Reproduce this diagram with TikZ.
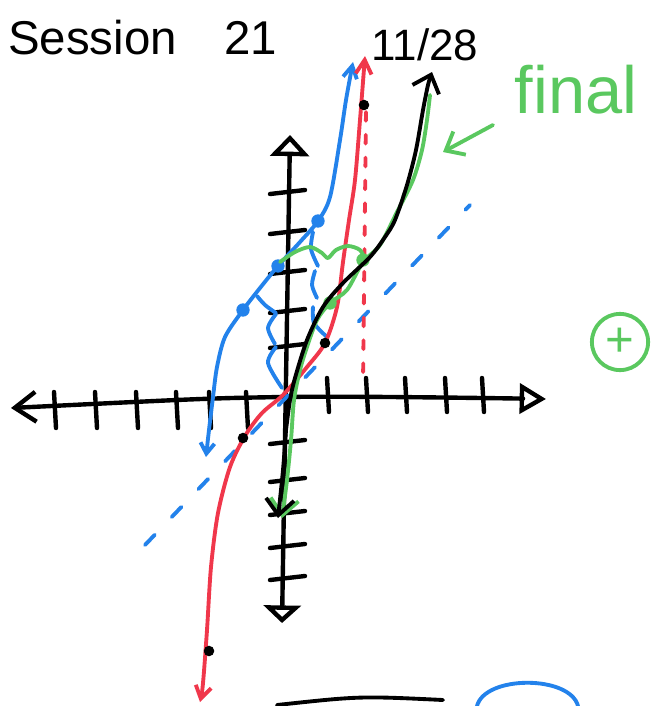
\documentclass[tikz,border=0pt]{standalone}
\usepackage{fontspec}
\setmainfont{Liberation Sans}
\usetikzlibrary{arrows.meta}
\definecolor{inkblue}{RGB}{35,130,235}
\definecolor{inkred}{RGB}{240,55,75}
\definecolor{inkgreen}{RGB}{90,200,95}

\begin{document}
\begin{tikzpicture}[x=0.02cm, y=-0.02cm, >={Straight Barb[length=7pt,width=9pt]},
    pen/.style={line width=2.2pt, line cap=round, line join=round},
    axis/.style={pen, line width=2.5pt, black},
    isoline/.style={pen, dash pattern=on 8pt off 14pt},
    bigbarb/.style={-{Straight Barb[length=9pt,width=16pt]}}]
    \useasboundingbox (0,0) rectangle (655,706);

    % Heading
    \node[anchor=base west, font=\fontsize{27}{30}\selectfont] (title) at (2,55) {Session\quad 21};
    \node[font=\fontsize{25}{27}\selectfont] (date) at (425,45) {11/28};

    % Axes
    \draw[axis, {Straight Barb[length=12pt,width=17pt]}-{Triangle[open,length=15pt,width=17pt]}]
        plot[smooth] coordinates {(11,408) (283,397) (546,399)};
    \draw[axis, {Triangle[open,length=10pt,width=21pt]}-{Triangle[open,length=12pt,width=22pt]}]
        (282,623) -- (290,135);
    \foreach \t in {54,95,136,176,209,246} {
        \draw[axis] (\t,392) -- (\t+2,428);
    }
    \foreach \t in {327,366,405,445,482} {
        \draw[axis] (\t,378) -- (\t+2,412);
    }
    \foreach \t in {192,232,272,311,346,442,480,513,546,578} {
        \draw[axis] (270,\t+2) -- (305,\t-2);
    }

    % y = x
    \draw[inkblue, isoline] (145,545) -- (470,205);
    % red dotted line x = 2
    \draw[inkred, pen, dash pattern=on 5pt off 8pt] (366,112) -- (363,385);

    % Blue solution
    \draw[inkblue, pen, {Straight Barb[length=6pt,width=8pt]}-{Straight Barb[length=7pt,width=8pt]}]
        plot[smooth] coordinates {(206,457) (209,430) (213,397) (217,367) (225,337) (243,310)
        (260,288) (278,266) (300,242) (318,221) (330,197) (340,140) (346,100) (353,62)};
    \draw[inkblue, pen] plot[smooth] coordinates {(257,296) (265,305) (276,313)};
    \draw[inkblue, pen] plot[smooth] coordinates {(276,314) (268,328) (275,344)};
    \draw[inkblue, pen] plot[smooth] coordinates {(276,347) (268,363) (282,388)};
    \draw[inkblue, pen] plot[smooth] coordinates {(313,232) (311,249) (318,266)};
    \draw[inkblue, pen] plot[smooth] coordinates {(315,271) (312,285) (317,298)};
    \draw[inkblue, pen] plot[smooth] coordinates {(313,307) (314,323) (327,337)};
    \foreach \p in {(318,221),(278,266),(243,310)} {
        \fill[inkblue] \p circle[radius=3.8pt];
    }

    % Red solution
    \draw[inkred, pen, {Straight Barb[length=7pt,width=9pt]}-{Straight Barb[length=8pt,width=9pt]}]
        plot[smooth] coordinates {(200,702) (203,683) (207,630) (211,567) (218,513) (230,467)
        (245,436) (262,413) (283,395) (307,367) (325,343) (337,307) (343,262) (349,220)
        (355,180) (360,120) (365,56)};
    \foreach \p in {(364,105),(325,343),(243,438),(209,651)} {
        \fill \p circle[radius=3pt];
    }

    % Green solution
    \draw[inkgreen, pen, bigbarb] plot[smooth] coordinates {(430,95) (427,120) (422,150)
        (413,180) (397,212) (380,245) (363,262) (347,290) (330,303) (317,320) (307,347)
        (300,370) (294,400) (291,440) (287,480) (282,518)};
    \draw[inkgreen, pen] plot[smooth] coordinates {(280,262) (295,252) (310,247) (322,253)
        (328,258) (336,250) (348,246) (360,250) (365,260)};
    \foreach \p in {(330,303),(363,260)} {
        \fill[inkgreen] \p circle[radius=3.8pt];
    }

    % Final curve
    \draw[pen, bigbarb] plot[smooth] coordinates {(286,430) (290,400) (295,378) (307,340)
        (323,307) (343,283) (370,257) (385,237) (395,220) (407,185) (416,150) (423,110)
        (428,85) (432,72)};
    \draw[pen, bigbarb] plot[smooth] coordinates {(286,430) (283,470) (278,518)};

    % Labels
    \node[text=inkgreen, font=\fontsize{38}{38}\selectfont] (final) at (576,90) {final};
    \coordinate (tail) at (493,125);
    \coordinate (head) at (443,152);
    \draw[inkgreen, pen, -{Straight Barb[length=9pt,width=15pt]}] (tail) -- (head);
    \node[draw=inkgreen, pen, circle, minimum size=32pt, inner sep=0pt, text=inkgreen,
        font=\fontsize{28}{28}\selectfont] (plus) at (620,342) {+};

    % Bottom scraps
    \draw[pen] (277,705) .. controls (360,696) .. (443,700);
    \draw[inkblue, pen] (477,706) .. controls (485,675) and (570,675) .. (578,706);
\end{tikzpicture}
\end{document}
